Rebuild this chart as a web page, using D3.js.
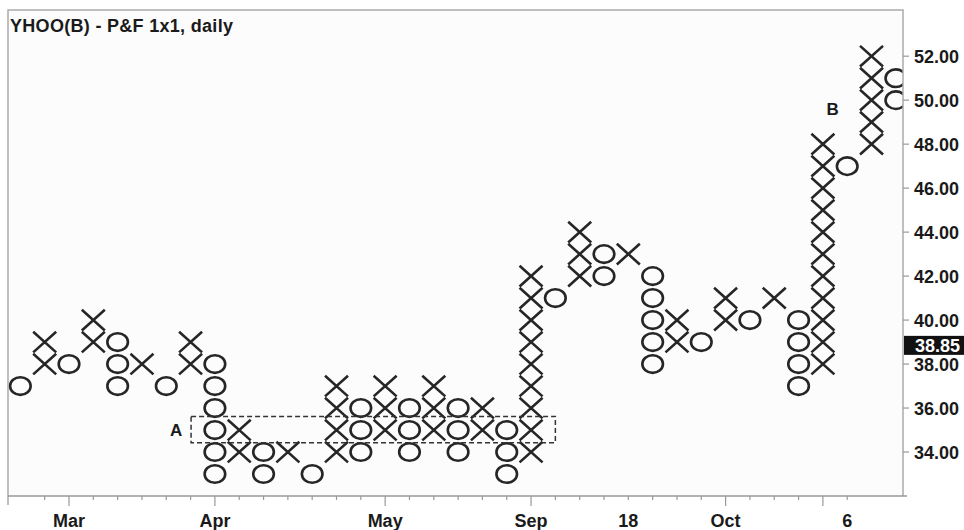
<!DOCTYPE html>
<html>
<head>
<meta charset="utf-8">
<script src="https://cdn.jsdelivr.net/npm/d3@7"></script>
<style>
body { margin: 0; background: #fff; }
text { font-family: "Liberation Sans", Arial, sans-serif; font-weight: bold; fill: #1a1a1a; }
</style>
</head>
<body>
<div id="chart"></div>
<script>
// point & figure columns, left to right
var colType = ["O","X","O","X","O","X","O","X","O","X","O","X","O","X","O","X","O","X","O",
               "X","O","X","O","X","O","X","O","X","O","X","O","X","O","X","O","X","O"];
var colLow  = [37,38,38,39,37,38,37,38,33,34,33,34,33,34,34,35,34,35,34,
               35,33,34,41,42,42,43,38,39,39,40,40,41,37,38,47,48,50];
var colHigh = [37,39,38,40,39,38,37,39,38,35,34,34,33,37,36,37,36,37,36,
               36,35,42,41,44,43,43,42,40,39,41,40,41,40,48,47,52,51];

var priceTicks = [34,36,38,40,42,44,46,48,50,52];
var dateLabels = ["Mar","Apr","May","Sep","18","Oct","6"];
var dateLabelCols = [2,8,15,21,25,29,34];
var majorTickCols = [2,8,15,21,29,33];
var lastPrice = 38.85;

// annotation boxes (column index / price)
var zoneA = {from: 7.02, to: 22.0, lo: 34.42, hi: 35.62};
var labelB = {col: 33.4, price: 49.6};

var width = 964, height = 530;
var plotL = 8, plotR = 903, plotT = 10, plotB = 496;

var svg = d3.select("#chart").append("svg")
    .attr("width", width)
    .attr("height", height);

// the last column runs under the right frame edge
var x = d3.scaleLinear().domain([-0.5, colType.length - 0.5]).range([plotL + 0.2, 908]);
var y = d3.scaleLinear().domain([32, 54.1]).range([plotB, plotT]);

svg.append("rect")
    .attr("x", plotL).attr("y", plotT)
    .attr("width", plotR - plotL).attr("height", plotB - plotT)
    .style("fill", "#fcfcfc");

svg.append("clipPath").attr("id", "plot")
    .append("rect")
    .attr("x", plotL).attr("y", plotT)
    .attr("width", plotR - plotL).attr("height", plotB - plotT);

// build one record per box
var boxes = [];
colType.forEach(function (t, i) {
    for (var v = colLow[i]; v <= colHigh[i]; v++) {
        boxes.push({col: i, type: t, price: v});
    }
});

var marks = svg.append("g").attr("clip-path", "url(#plot)")
    .style("stroke", "#262626")
    .style("stroke-width", 2.6)
    .style("fill", "none");

marks.selectAll("path.x")
    .data(boxes.filter(function (d) { return d.type === "X"; }))
    .enter().append("path")
    .attr("class", "x")
    .attr("d", function (d) {
        var cx = x(d.col), hw = 11.5;
        var y0 = y(d.price + 0.47), y1 = y(d.price - 0.47);
        return "M" + (cx - hw) + "," + y0 + "L" + (cx + hw) + "," + y1 +
               "M" + (cx + hw) + "," + y0 + "L" + (cx - hw) + "," + y1;
    });

marks.selectAll("ellipse")
    .data(boxes.filter(function (d) { return d.type === "O"; }))
    .enter().append("ellipse")
    .attr("cx", function (d) { return x(d.col); })
    .attr("cy", function (d) { return y(d.price); })
    .attr("rx", 10.3)
    .attr("ry", 8.8);

// zone A
svg.append("rect")
    .attr("x", x(zoneA.from))
    .attr("y", y(zoneA.hi))
    .attr("width", x(zoneA.to) - x(zoneA.from))
    .attr("height", y(zoneA.lo) - y(zoneA.hi))
    .style("fill", "none")
    .style("stroke", "#333")
    .style("stroke-width", 1.5)
    .style("stroke-dasharray", "5,3");

svg.append("text")
    .attr("x", x(zoneA.from) - 15)
    .attr("y", y((zoneA.lo + zoneA.hi) / 2) + 6)
    .attr("text-anchor", "middle")
    .style("font-size", "17px")
    .text("A");

svg.append("text")
    .attr("x", x(labelB.col))
    .attr("y", y(labelB.price) + 6)
    .attr("text-anchor", "middle")
    .style("font-size", "17px")
    .text("B");

// frame
svg.append("path")
    .attr("d", "M" + plotL + "," + (plotB + 9) + "V" + plotT + "H" + plotR + "V" + plotB)
    .style("fill", "none")
    .style("stroke", "#aaa")
    .style("stroke-width", 1.5);

// date axis
var xAxis = svg.append("g");
xAxis.append("line")
    .attr("x1", plotL).attr("x2", plotR + 4)
    .attr("y1", plotB).attr("y2", plotB)
    .style("stroke", "#999").style("stroke-width", 1.5);

xAxis.selectAll("line.tick")
    .data(d3.range(1, 35))
    .enter().append("line")
    .attr("class", "tick")
    .attr("x1", function (d) { return x(d); })
    .attr("x2", function (d) { return x(d); })
    .attr("y1", plotB)
    .attr("y2", function (d) { return majorTickCols.indexOf(d) >= 0 ? plotB + 10 : plotB + 4; })
    .style("stroke", "#999").style("stroke-width", 1.2);

xAxis.selectAll("text")
    .data(dateLabels)
    .enter().append("text")
    .attr("x", function (d, i) { return x(dateLabelCols[i]); })
    .attr("y", 527)
    .attr("text-anchor", "middle")
    .style("font-size", "18px")
    .text(function (d) { return d; });

// price axis
var yAxis = svg.append("g");
yAxis.selectAll("line")
    .data(priceTicks)
    .enter().append("line")
    .attr("x1", plotR).attr("x2", plotR + 6)
    .attr("y1", function (d) { return y(d); })
    .attr("y2", function (d) { return y(d); })
    .style("stroke", "#999").style("stroke-width", 1.2);

yAxis.selectAll("text")
    .data(priceTicks)
    .enter().append("text")
    .attr("x", 914)
    .attr("y", function (d) { return y(d) + 6.5; })
    .style("font-size", "18px")
    .text(function (d) { return d.toFixed(2); });

yAxis.append("rect")
    .attr("x", plotR + 1)
    .attr("y", y(lastPrice) - 9.5)
    .attr("width", width - plotR - 1)
    .attr("height", 19)
    .style("fill", "#111");

yAxis.append("text")
    .attr("x", 915)
    .attr("y", y(lastPrice) + 6.5)
    .style("font-size", "18px")
    .style("fill", "#fff")
    .text(lastPrice.toFixed(2));

svg.append("text")
    .attr("x", 10)
    .attr("y", 32)
    .style("font-size", "18px")
    .style("letter-spacing", "0.3px")
    .text("YHOO(B) - P&F 1x1, daily");
</script>
</body>
</html>
